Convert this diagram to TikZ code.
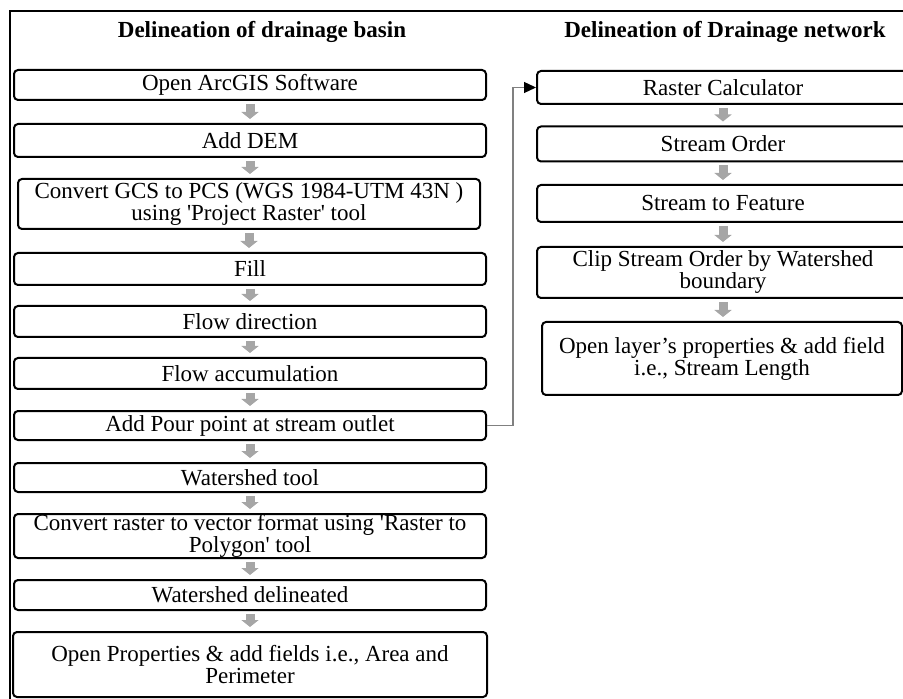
\documentclass[tikz,border=0pt]{standalone}
\usepackage{fontspec}
\setmainfont{Liberation Serif}[Ligatures=TeXOff]
\usetikzlibrary{arrows.meta}

\begin{document}
\begin{tikzpicture}[x=.5pt, y=-.5pt,
  box/.style={draw, line width=1pt, rounded corners=2pt, inner sep=0pt, align=center, font=\fontsize{11.5}{11}\selectfont},
  lbox/.style={box, minimum width=236pt},
  rbox/.style={box, minimum width=186pt},
  head/.style={font=\fontsize{11.5}{11}\selectfont\bfseries},
  flow/.style={draw=gray!70, line width=4.5pt, -{Triangle[width=8.5pt,length=3.5pt]}, shorten <=1.5pt, shorten >=2pt},
  link/.style={draw=gray, line width=.6pt, -{Triangle[width=5.5pt,length=6pt,black]}}]
\path[use as bounding box] (0,0) rectangle (903,699);
\clip (0,0) rectangle (903,699);
\draw[line width=1pt] (10,720) |- (920,11);

\node[head] (hbasin) at (262,32) {Delineation of drainage basin};
\node[head] (hnet) at (725,32) {Delineation of Drainage network};

% basin
\node[lbox, minimum height=15pt] (open) at (250,85) {Open ArcGIS Software};
\node[lbox, minimum height=16.5pt] (dem) at (250,140.5) {Add DEM};
\node[lbox, minimum width=231pt, minimum height=25pt] (gcs) at (249,204) {Convert GCS to PCS (WGS 1984-UTM 43N )\\using 'Project Raster' tool};
\node[lbox, minimum height=16pt] (fill) at (250,269) {Fill};
\node[lbox, minimum height=15.5pt] (fdir) at (250,321.5) {Flow direction};
\node[lbox, minimum height=15.5pt] (facc) at (250,373.5) {Flow accumulation};
\node[lbox, minimum height=14.5pt] (pour) at (250,425.5) {Add Pour point at stream outlet};
\node[lbox, minimum height=14.5pt] (wshed) at (250,477.5) {Watershed tool};
\node[lbox, minimum height=22pt] (poly) at (250,536) {Convert raster to vector format using 'Raster to\\Polygon' tool};
\node[lbox, minimum height=15pt] (delin) at (250,595) {Watershed delineated};
\node[lbox, minimum width=237pt, minimum height=32.5pt] (props) at (250,664.5) {Open Properties \& add fields i.e., Area and\\Perimeter};

% network
\node[rbox, minimum height=16.5pt] (rcalc) at (723,87.5) {Raster Calculator};
\node[rbox, minimum height=17.5pt] (sorder) at (723,144) {Stream Order};
\node[rbox, minimum height=18.5pt] (sfeat) at (723,203.5) {Stream to Feature};
\node[rbox, minimum height=25.5pt] (sclip) at (723,272.5) {Clip Stream Order by Watershed\\boundary};
\node[rbox, minimum width=180pt, minimum height=36.5pt] (slen) at (722,358.5) {Open layer’s properties \& add field\\i.e., Stream Length};

\foreach \a/\b in {open/dem, dem/gcs, gcs/fill, fill/fdir, fdir/facc, facc/pour, pour/wshed, wshed/poly, poly/delin, delin/props, rcalc/sorder, sorder/sfeat, sfeat/sclip, sclip/slen}
  \draw[flow] (\a.south) -- (\a.south |- \b.north);

\draw[link] (pour.east) -- ++(26,0) |- (rcalc.west);
\end{tikzpicture}
\end{document}
